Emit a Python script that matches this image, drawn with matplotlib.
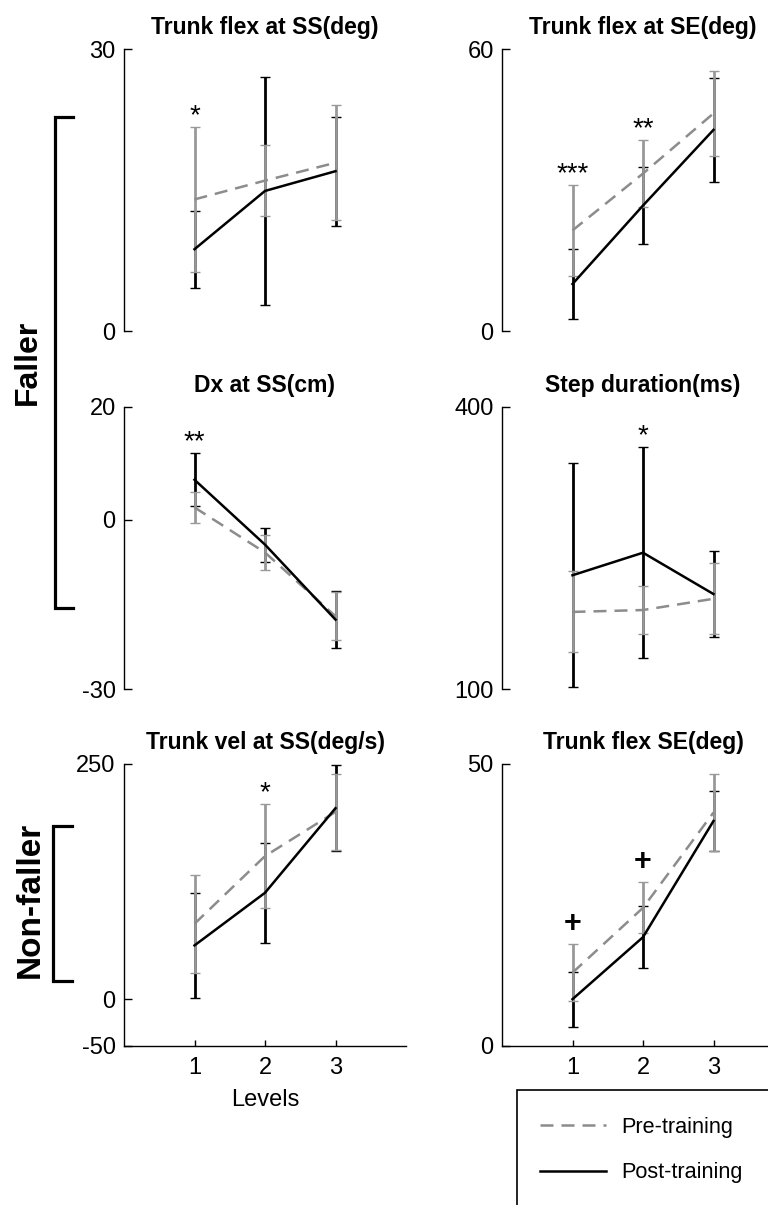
import matplotlib.pyplot as plt
from matplotlib.lines import Line2D
from matplotlib.patches import Rectangle

plt.rcParams['font.family'] = ['Liberation Sans', 'DejaVu Sans']
plt.rcParams['axes.unicode_minus'] = False

levels = [1, 2, 3]

# Faller: trunk flexion at step start (deg)
flex_ss_pre = [14.0, 16.0, 17.9]
flex_ss_pre_sd = [7.7, 3.8, 6.1]
flex_ss_post = [8.7, 14.9, 17.0]
flex_ss_post_sd = [4.1, 12.1, 5.8]

# Faller: trunk flexion at step end (deg)
flex_se_pre = [21.4, 33.5, 46.3]
flex_se_pre_sd = [9.6, 7.1, 9.0]
flex_se_post = [10.0, 26.7, 42.8]
flex_se_post_sd = [7.5, 8.2, 11.0]

# Faller: Dx at step start (cm)
dx_pre = [2.2, -5.8, -17.1]
dx_pre_sd = [2.8, 3.1, 4.3]
dx_post = [7.1, -4.4, -17.7]
dx_post_sd = [4.7, 3.0, 5.1]

# Faller: step duration (ms)
step_pre = [182, 184, 196]
step_pre_sd = [43, 26, 38]
step_post = [221, 245, 201]
step_post_sd = [119, 112, 46]

# Non-faller: trunk velocity at step start (deg/s)
vel_ss_pre = [80, 152, 199]
vel_ss_pre_sd = [52, 55, 40]
vel_ss_post = [57, 113, 203]
vel_ss_post_sd = [56, 53, 46]

# Non-faller: trunk flexion at step end (deg)
nf_flex_se_pre = [13.0, 24.5, 41.4]
nf_flex_se_pre_sd = [5.0, 4.5, 6.8]
nf_flex_se_post = [8.3, 19.3, 39.9]
nf_flex_se_post_sd = [4.9, 5.5, 5.4]

titles = ['Trunk flex at SS(deg)', 'Trunk flex at SE(deg)',
          'Dx at SS(cm)', 'Step duration(ms)',
          'Trunk vel at SS(deg/s)', 'Trunk flex SE(deg)']
ylims = [(0, 30), (0, 60), (-30, 20), (100, 400), (-50, 250), (0, 50)]
yticks = [[0, 30], [0, 60], [-30, 0, 20], [100, 400], [-50, 0, 250], [0, 50]]
# significance marks: (level, symbol)
marks = [[(1, '*')], [(1, '***'), (2, '**')], [(1, '**')], [(2, '*')],
         [(2, '*')], [(1, '+'), (2, '+')]]

pre = [flex_ss_pre, flex_se_pre, dx_pre, step_pre, vel_ss_pre, nf_flex_se_pre]
pre_sd = [flex_ss_pre_sd, flex_se_pre_sd, dx_pre_sd, step_pre_sd, vel_ss_pre_sd, nf_flex_se_pre_sd]
post = [flex_ss_post, flex_se_post, dx_post, step_post, vel_ss_post, nf_flex_se_post]
post_sd = [flex_ss_post_sd, flex_se_post_sd, dx_post_sd, step_post_sd, vel_ss_post_sd, nf_flex_se_post_sd]

W, H = 768, 1205
fig = plt.figure(figsize=(W / 100, H / 100), dpi=100)

GRAY = '#999999'
DASH_GRAY = '#8c8c8c'
lefts = [124, 502]
tops = [49, 407, 764]
ax_w, ax_h = 282, 282

for i in range(6):
    row, col = divmod(i, 2)
    x0 = lefts[col]
    y0 = tops[row] + ax_h
    ax = fig.add_axes([x0 / W, 1 - y0 / H, ax_w / W, ax_h / H])

    # error bars, post first so pre sits on top
    ax.errorbar(levels, post[i], yerr=post_sd[i], fmt='none', ecolor='black',
                elinewidth=2, capsize=3.5, capthick=1, zorder=2)
    ax.errorbar(levels, pre[i], yerr=pre_sd[i], fmt='none', ecolor=GRAY,
                elinewidth=2, capsize=3.5, capthick=1, zorder=3)
    ax.plot(levels, pre[i], color=DASH_GRAY, lw=1.8, dashes=(5.2, 3.2), zorder=4)
    ax.plot(levels, post[i], color='black', lw=1.8, zorder=5)

    for lv, sym in marks[i]:
        k = lv - 1
        top = max(pre[i][k] + pre_sd[i][k], post[i][k] + post_sd[i][k])
        if sym == '+':
            ax.annotate(sym, xy=(lv, top), xytext=(0, 9), textcoords='offset points',
                        ha='center', va='baseline', fontsize=22, fontweight='bold')
        else:
            ax.annotate(sym, xy=(lv, top), xytext=(0, 3), textcoords='offset points',
                        ha='center', va='baseline', fontsize=20)

    ax.set_xlim(0, 4)
    ax.set_ylim(*ylims[i])
    ax.set_yticks(yticks[i])
    ax.set_title(titles[i], fontsize=16.5, fontweight='bold', pad=11)
    for s in ['top', 'right']:
        ax.spines[s].set_visible(False)
    ax.spines['left'].set_linewidth(1.0)
    ax.tick_params(axis='y', direction='in', length=6, width=1, labelsize=17, pad=6)
    if row == 2:
        ax.spines['bottom'].set_linewidth(1.0)
        ax.set_xticks(levels)
        ax.tick_params(axis='x', direction='in', length=4, width=1, labelsize=17, pad=8)
        if col == 0:
            ax.set_xlabel('Levels', fontsize=17, labelpad=7)
    else:
        ax.spines['bottom'].set_visible(False)
        ax.set_xticks([])

# group labels with brackets
fig.text(28 / W, 1 - 362 / H, 'Faller', rotation=90, fontsize=23, fontweight='bold',
         ha='center', va='center')
fig.text(30 / W, 1 - 900 / H, 'Non-faller', rotation=90, fontsize=24, fontweight='bold',
         ha='center', va='center')
for xa, xb, ya, yb in [(55, 73, 117, 608), (53, 72, 826, 981)]:
    fig.add_artist(Line2D([xb / W, xa / W, xa / W, xb / W],
                          [1 - ya / H, 1 - ya / H, 1 - yb / H, 1 - yb / H],
                          color='black', lw=2.3, solid_joinstyle='miter'))

# legend
fig.add_artist(Rectangle((517 / W, -0.05), 0.5, 0.05 + (H - 1090) / H,
                         transform=fig.transFigure, fill=False, edgecolor='black', lw=1.2))
handles = [Line2D([], [], color=DASH_GRAY, lw=1.8, dashes=(5.2, 3.2)),
           Line2D([], [], color='black', lw=1.8)]
fig.legend(handles, ['Pre-training', 'Post-training'], loc='center left',
           bbox_to_anchor=(540 / W, 1 - 1150 / H), frameon=False, fontsize=15.6,
           borderpad=0, borderaxespad=0, handlelength=3.05, handletextpad=0.69,
           labelspacing=1.12)

fig.savefig('out.png', dpi=100)
